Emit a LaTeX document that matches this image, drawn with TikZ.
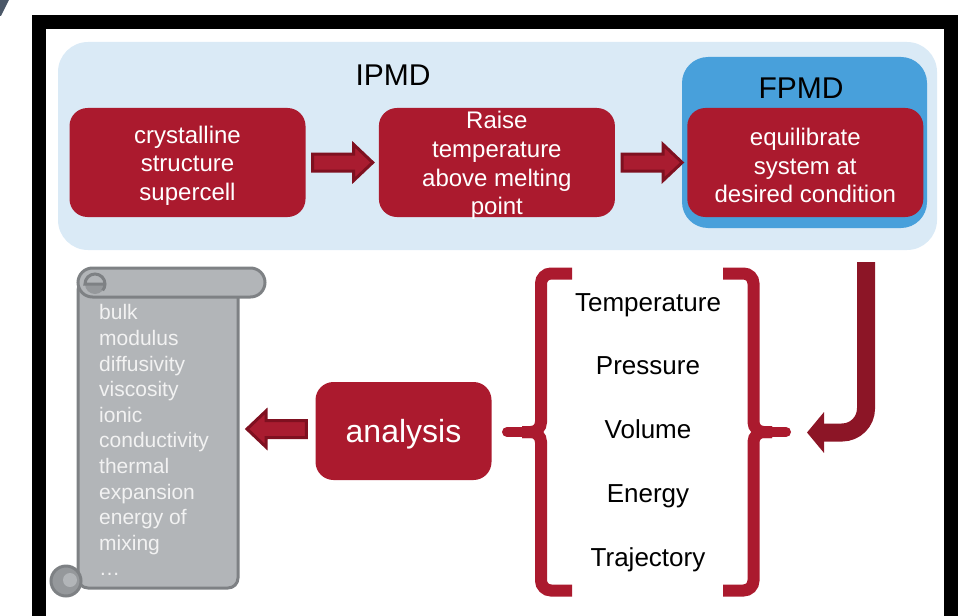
\documentclass[tikz,border=0pt]{standalone}
\usepackage{fontspec}
\setmainfont{Liberation Sans}
\usetikzlibrary{arrows.meta, positioning, calc}
\definecolor{panelblue}{HTML}{DAEAF6}
\definecolor{fpmdblue}{HTML}{48A0DB}
\definecolor{boxred}{HTML}{AB1A2E}
\definecolor{arrowred}{HTML}{A91C30}
\definecolor{arrowdark}{HTML}{7F1020}
\definecolor{bendred}{HTML}{8C1526}
\definecolor{scrollgray}{HTML}{B2B5B8}
\definecolor{scrolledge}{HTML}{7E8184}
\definecolor{scrolldark}{HTML}{95989B}
\definecolor{slate}{HTML}{4B5868}
\tikzset{
  % Frame and panels
  frame/.style={draw=black, line width=13.5pt},
  panel/.style={fill=panelblue, rounded corners=30pt, minimum width=879pt, minimum height=208pt, inner sep=0pt},
  fpmdbox/.style={fill=fpmdblue, rounded corners=26pt, minimum width=245pt, minimum height=171pt, inner sep=0pt},
  title/.style={font=\fontsize{30}{36}\selectfont, inner sep=0pt},
  % Red process boxes
  stepbox/.style={fill=boxred, rounded corners=18pt, text=white, align=center, inner xsep=0pt, inner ysep=-4pt,
    minimum width=236pt, minimum height=109pt, font=\fontsize{24}{28.6}\selectfont},
  % Lists
  quantity/.style={align=center, inner sep=0pt, font=\fontsize{26}{63.8}\selectfont},
  proplist/.style={align=left, inner sep=0pt, text=white!95!black, font=\fontsize{21}{25.6}\selectfont},
  % Scroll and brackets
  scroll/.style={fill=scrollgray, draw=scrolledge, line width=3pt},
  scrollcurl/.style={draw=scrolledge, line width=3pt},
  bracket/.style={draw=boxred, line width=12pt, rounded corners=10pt},
  brackettick/.style={draw=boxred, line width=10pt, line cap=round},
  % Pointers
  blockarr/.style={fill=arrowred, draw=arrowdark, line width=3pt, line join=miter},
  bendarrow/.style={draw=bendred, line width=18pt, rounded corners=24pt, -{Triangle[length=17pt, width=40pt]}},
}
% taller first line, so the text sits a bit lower in its box
\newcommand{\topstrut}[1][23.5pt]{\rule{0pt}{#1}}
% block arrow from tail #1 to tip #2
\newcommand{\blockarrow}[2]{%
  \draw[blockarr] ($(#1)!8.5pt!90:(#2)$)
    -- ($(#2)!19pt!(#1)!8.5pt!-90:(#1)$)
    -- ($(#2)!19pt!(#1)!18pt!-90:(#1)$)
    -- (#2)
    -- ($(#2)!19pt!(#1)!18pt!90:(#1)$)
    -- ($(#2)!19pt!(#1)!8.5pt!90:(#1)$)
    -- ($(#1)!8.5pt!-90:(#2)$) -- cycle;}

\begin{document}
\begin{tikzpicture}[x=1pt, y=-1pt]
  \useasboundingbox (0,0) rectangle (973,615);
  \clip (0,0) rectangle (973,615);

  % frame
  \fill[slate] (0,0) -- (9,0) -- (1,16) -- (0,16) -- cycle;
  \draw[frame] (38.75,22) rectangle (951,640);

  % IPMD and FPMD areas
  \node[panel] (ipmdpanel) at (497.5,146) {};
  \node[title] (ipmdlabel) at (393,75) {IPMD};
  \node[fpmdbox] (fpmd) at (804.5,142.5) {};
  \node[title] (fpmdlabel) at (801,88) {FPMD};

  % process row
  \node[stepbox] (crystal) at (187.5,162.5) {\topstrut crystalline\\structure\\supercell};
  \node[stepbox, right=73pt of crystal] (raise) {\topstrut Raise\\temperature\\above melting\\point};
  \node[stepbox, right=72pt of raise] (equil) {\topstrut equilibrate\\system at\\desired condition};

  % analysis row
  \node[stepbox, minimum width=176pt, minimum height=98pt, font=\fontsize{32}{38}\selectfont]
    (analysis) at (403.5,431) {\topstrut[30pt]analysis};
  \node[quantity] (quantities) at (648,432.5) {Temperature\\Pressure\\Volume\\Energy\\Trajectory};

  % scroll
  \draw[scroll, rounded corners=10pt] (78,280) rectangle (238,588);
  \draw[scroll, fill=scrolldark] (66,581) circle[radius=15];
  \fill[scrollgray] (70,580) circle[radius=7];
  \draw[scroll, rounded corners=14.5pt] (78,268) rectangle (265,297);
  \fill[scrolldark] (105,284) arc[start angle=0, end angle=180, radius=10] -- cycle;
  \draw[scrollcurl] (105,284) -- (85,284) arc[start angle=180, end angle=400, radius=10];
  \node[proplist, anchor=north west] (props) at (99,304.5)
    {bulk\\modulus\\diffusivity\\viscosity\\ionic\\conductivity\\thermal\\expansion\\energy of\\mixing\\\ldots};

  % brackets
  \draw[bracket] (572,273.5) -- (541,273.5) -- (541,432) -- (522,432);
  \draw[bracket] (572,590.5) -- (541,590.5) -- (541,432) -- (522,432);
  \draw[brackettick] (530,432) -- (507,432);
  \draw[bracket] (723,273.5) -- (753.5,273.5) -- (753.5,432) -- (772,432);
  \draw[bracket] (723,590.5) -- (753.5,590.5) -- (753.5,432) -- (772,432);
  \draw[brackettick] (765,432) -- (786,432);

  % pointers
  \coordinate (a1s) at ($(crystal.east)+(7,0)$);
  \coordinate (a1t) at ($(raise.west)+(-6,0)$);
  \blockarrow{a1s}{a1t}
  \coordinate (a2s) at ($(raise.east)+(7,0)$);
  \coordinate (a2t) at ($(equil.west)+(-5,0)$);
  \blockarrow{a2s}{a2t}
  \coordinate (a3s) at ($(analysis.west)+(-9,-2)$);
  \coordinate (a3t) at (247,429);
  \blockarrow{a3s}{a3t}
  \coordinate (fpmdout) at (866,262);
  \coordinate (bracetip) at (807,432.5);
  \draw[bendarrow] (fpmdout) |- (bracetip);
\end{tikzpicture}
\end{document}
